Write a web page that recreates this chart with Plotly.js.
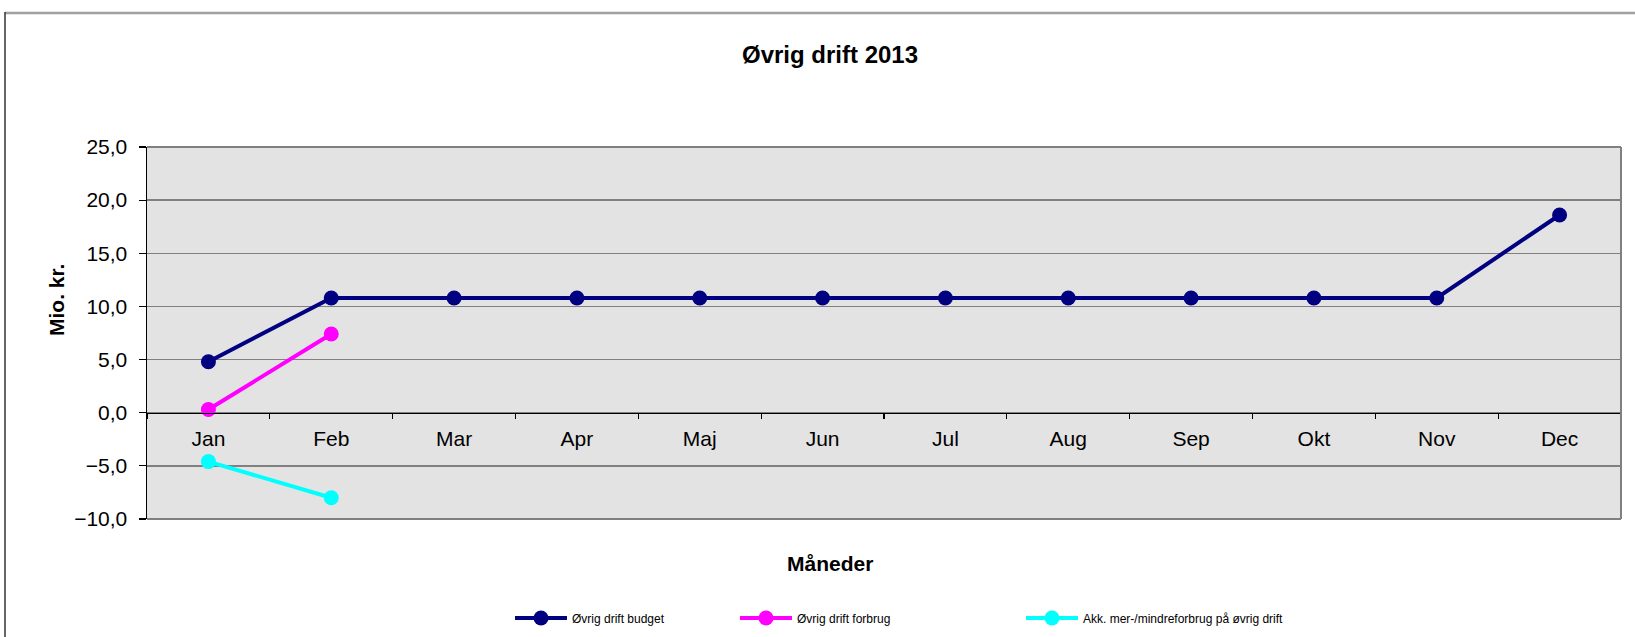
<!DOCTYPE html>
<html>
<head>
<meta charset="utf-8">
<script src="https://cdn.plot.ly/plotly-3.0.1.min.js"></script>
<style>
  html, body { margin: 0; padding: 0; background: #ffffff; }
  #chart { width: 1635px; height: 637px; }
</style>
</head>
<body>
<div id="chart"></div>
<script>
// ---- data ----
var months = ["Jan", "Feb", "Mar", "Apr", "Maj", "Jun", "Jul", "Aug", "Sep", "Okt", "Nov", "Dec"];
var budgetValues = [4.8, 10.8, 10.8, 10.8, 10.8, 10.8, 10.8, 10.8, 10.8, 10.8, 10.8, 18.6];
var forbrugValues = [0.3, 7.4];
var akkValues = [-4.6, -8.0];
var seriesNames = ["Øvrig drift budget", "Øvrig drift forbrug", "Akk. mer-/mindreforbrug på øvrig drift"];
var chartTitle = "Øvrig drift 2013";
var xTitle = "Måneder";
var yTitle = "Mio. kr.";

var FONT = "Arial, 'Liberation Sans', sans-serif";

// ---- geometry (pixels) ----
var W = 1635, H = 637;
var mL = 147, mR = 14, mT = 147, mB = 118;
var pw = W - mL - mR, ph = H - mT - mB;
function xp(px) { return (px - mL) / pw; }
function yp(py) { return (H - mB - py) / ph; }

var yMin = -10, yMax = 25;

var traces = [
  {
    x: months, y: budgetValues, name: seriesNames[0], type: "scatter", mode: "lines+markers",
    line: { color: "#000080", width: 4 }, marker: { color: "#000080", size: 15 },
    legend: "legend", cliponaxis: false
  },
  {
    x: months.slice(0, forbrugValues.length), y: forbrugValues, name: seriesNames[1], type: "scatter", mode: "lines+markers",
    line: { color: "#FF00FF", width: 4 }, marker: { color: "#FF00FF", size: 15 },
    legend: "legend2", cliponaxis: false
  },
  {
    x: months.slice(0, akkValues.length), y: akkValues, name: seriesNames[2], type: "scatter", mode: "lines+markers",
    line: { color: "#00FFFF", width: 4 }, marker: { color: "#00FFFF", size: 15 },
    legend: "legend3", cliponaxis: false
  }
];

function legendAt(px) {
  return {
    x: px / W, y: 1 - 618 / H, xref: "container", yref: "container", xanchor: "left", yanchor: "middle",
    orientation: "h", bgcolor: "rgba(0,0,0,0)", borderwidth: 0,
    font: { family: FONT, size: 12, color: "#000000" }, itemwidth: 52
  };
}

var gray = "#808080";
var layout = {
  width: W, height: H,
  margin: { l: mL, r: mR, t: mT, b: mB, pad: 0, autoexpand: false },
  paper_bgcolor: "#ffffff",
  plot_bgcolor: "#e3e3e3",
  separators: ",.",
  font: { family: FONT, size: 21, color: "#000000" },
  title: {
    text: "<b>" + chartTitle + "</b>",
    font: { family: FONT, size: 24, color: "#000000" },
    xref: "container", yref: "container",
    x: 830 / W, y: 1 - 55 / H, xanchor: "center", yanchor: "middle"
  },
  xaxis: {
    type: "category",
    categoryorder: "array", categoryarray: months,
    range: [-0.5, months.length - 0.5],
    anchor: "free", position: (0 - yMin) / (yMax - yMin),
    showline: true, linecolor: "#000000", linewidth: 1.5,
    ticks: "outside", ticklen: 5, tickwidth: 1.2, tickcolor: "#000000",
    tickson: "boundaries",
    showgrid: false, zeroline: false,
    tickfont: { family: FONT, size: 21, color: "#000000" },
    ticklabelstandoff: 7,
    fixedrange: true
  },
  yaxis: {
    range: [yMin, yMax], dtick: 5, tick0: 0,
    tickformat: ".1f",
    showgrid: true, gridcolor: gray, gridwidth: 1.5,
    zeroline: false,
    showline: true, linecolor: "#000000", linewidth: 1.5,
    ticks: "outside", ticklen: 7, tickwidth: 1.2, tickcolor: "#000000",
    tickfont: { family: FONT, size: 21, color: "#000000" },
    ticklabelstandoff: 7,
    fixedrange: true
  },
  legend: legendAt(510),
  legend2: legendAt(735),
  legend3: legendAt(1021),
  annotations: [
    {
      text: "<b>" + yTitle + "</b>", xref: "paper", yref: "paper",
      x: xp(56), y: yp(300), xanchor: "center", yanchor: "middle",
      textangle: -90, showarrow: false,
      font: { family: FONT, size: 21, color: "#000000" }
    },
    {
      text: "<b>" + xTitle + "</b>", xref: "paper", yref: "paper",
      x: xp(830), y: yp(563), xanchor: "center", yanchor: "middle",
      showarrow: false,
      font: { family: FONT, size: 21, color: "#000000" }
    }
  ],
  shapes: [
    // plot area border (top, right, bottom)
    { type: "line", xref: "paper", yref: "paper", x0: 0, x1: 1, y0: 1, y1: 1, line: { color: gray, width: 2 }, layer: "above" },
    { type: "line", xref: "paper", yref: "paper", x0: 1, x1: 1, y0: 0, y1: 1, line: { color: gray, width: 2 }, layer: "above" },
    { type: "line", xref: "paper", yref: "paper", x0: 0, x1: 1, y0: 0, y1: 0, line: { color: gray, width: 2 }, layer: "above" },
    // outer chart frame (left and top edge)
    { type: "line", xref: "paper", yref: "paper", x0: xp(5), x1: xp(W + 10), y0: yp(13), y1: yp(13), line: { color: "#a0a0a0", width: 2.5 }, layer: "above" },
    { type: "line", xref: "paper", yref: "paper", x0: xp(5), x1: xp(5), y0: yp(12), y1: yp(H + 10), line: { color: "#333333", width: 1.5 }, layer: "above" }
  ],
  showlegend: true
};

Plotly.newPlot("chart", traces, layout, { displayModeBar: false, staticPlot: true });
</script>
</body>
</html>
